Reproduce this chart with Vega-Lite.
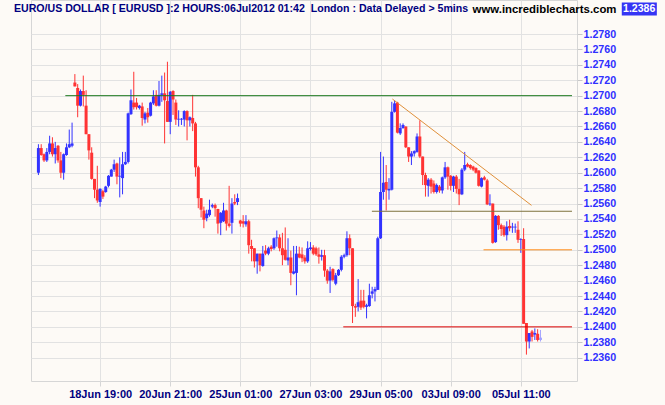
{
"$schema":"https://vega.github.io/schema/vega-lite/v6.json",
"width":546,"height":381,
"autosize":{"type":"none"},
"padding":{"left":31,"top":0,"right":88,"bottom":24},
"background":"#fdfaf6",
"title":{"text":"EURO/US DOLLAR [ EURUSD ]:2 HOURS:06Jul2012 01:42\u00a0 London : Data Delayed > 5mins","anchor":"start","frame":"group","orient":"top","offset":-13,"dy":10,"baseline":"alphabetic","dx":-17,"font":"Liberation Sans","fontSize":10.6,"fontWeight":"bold","color":"#000080"},
"config":{"view":{"stroke":"#d6d6d6"},"axis":{"gridColor":"#e2e2e2","gridWidth":1},
 "axisX":{"grid":true,"domain":false,"ticks":true,"tickColor":"#d6d6d6","tickSize":5,"labelFont":"Liberation Sans","labelFontSize":11,"labelFontWeight":"bold","labelColor":"#000080","labelPadding":2,"labelFlush":false,"labelOverlap":false},
 "axisY":{"grid":true,"domain":false,"ticks":true,"tickColor":"#c8c8c8","tickSize":5,"labelPadding":1,"labelFont":"Liberation Sans","labelFontSize":10.7,"labelFontWeight":"bold","labelColor":"#3030ff","labelOverlap":false}},
"datasets":{
"bars":[
{"i":0,"o":1.2600,"h":1.2637,"l":1.2597,"c":1.2632},
{"i":1,"o":1.2632,"h":1.2637,"l":1.2622,"c":1.2623},
{"i":2,"o":1.2624,"h":1.2625,"l":1.2614,"c":1.2616},
{"i":3,"o":1.2616,"h":1.2632,"l":1.2614,"c":1.2627},
{"i":4,"o":1.2627,"h":1.2648,"l":1.2624,"c":1.2638},
{"i":5,"o":1.2638,"h":1.2646,"l":1.2621,"c":1.2624},
{"i":6,"o":1.2624,"h":1.2640,"l":1.2612,"c":1.2632},
{"i":7,"o":1.2635,"h":1.2636,"l":1.2613,"c":1.2616},
{"i":8,"o":1.2616,"h":1.2627,"l":1.2593,"c":1.2600},
{"i":9,"o":1.2600,"h":1.2625,"l":1.2591,"c":1.2624},
{"i":10,"o":1.2623,"h":1.2638,"l":1.2622,"c":1.2633},
{"i":11,"o":1.2633,"h":1.2656,"l":1.2632,"c":1.2637},
{"i":12,"o":1.2635,"h":1.2665,"l":1.2633,"c":1.2638},
{"i":13,"o":1.2717,"h":1.2728,"l":1.2712,"c":1.2712},
{"i":14,"o":1.2710,"h":1.2715,"l":1.2672,"c":1.2687},
{"i":15,"o":1.2687,"h":1.2708,"l":1.2686,"c":1.2706},
{"i":16,"o":1.2706,"h":1.2726,"l":1.2686,"c":1.2701},
{"i":17,"o":1.2687,"h":1.2707,"l":1.2650,"c":1.2650},
{"i":18,"o":1.2650,"h":1.2650,"l":1.2617,"c":1.2629},
{"i":19,"o":1.2626,"h":1.2633,"l":1.2591,"c":1.2592},
{"i":20,"o":1.2592,"h":1.2592,"l":1.2567,"c":1.2578},
{"i":21,"o":1.2578,"h":1.2609,"l":1.2561,"c":1.2564},
{"i":22,"o":1.2562,"h":1.2580,"l":1.2556,"c":1.2579},
{"i":23,"o":1.2576,"h":1.2578,"l":1.2566,"c":1.2569},
{"i":24,"o":1.2575,"h":1.2583,"l":1.2574,"c":1.2582},
{"i":25,"o":1.2583,"h":1.2597,"l":1.2581,"c":1.2596},
{"i":26,"o":1.2595,"h":1.2605,"l":1.2595,"c":1.2604},
{"i":27,"o":1.2604,"h":1.2617,"l":1.2601,"c":1.2611},
{"i":28,"o":1.2612,"h":1.2613,"l":1.2585,"c":1.2595},
{"i":29,"o":1.2595,"h":1.2620,"l":1.2568,"c":1.2596},
{"i":30,"o":1.2593,"h":1.2627,"l":1.2572,"c":1.2611},
{"i":31,"o":1.2611,"h":1.2627,"l":1.2610,"c":1.2614},
{"i":32,"o":1.2614,"h":1.2678,"l":1.2612,"c":1.2677},
{"i":33,"o":1.2676,"h":1.2708,"l":1.2675,"c":1.2694},
{"i":34,"o":1.2691,"h":1.2731,"l":1.2682,"c":1.2685},
{"i":35,"o":1.2691,"h":1.2697,"l":1.2682,"c":1.2685},
{"i":36,"o":1.2684,"h":1.2688,"l":1.2682,"c":1.2687},
{"i":37,"o":1.2686,"h":1.2691,"l":1.2661,"c":1.2671},
{"i":38,"o":1.2669,"h":1.2679,"l":1.2664,"c":1.2677},
{"i":39,"o":1.2678,"h":1.2684,"l":1.2665,"c":1.2672},
{"i":40,"o":1.2674,"h":1.2692,"l":1.2673,"c":1.2691},
{"i":41,"o":1.2690,"h":1.2707,"l":1.2688,"c":1.2699},
{"i":42,"o":1.2701,"h":1.2707,"l":1.2686,"c":1.2687},
{"i":43,"o":1.2687,"h":1.2719,"l":1.2686,"c":1.2701},
{"i":44,"o":1.2701,"h":1.2726,"l":1.2692,"c":1.2703},
{"i":45,"o":1.2703,"h":1.2730,"l":1.2638,"c":1.2694},
{"i":46,"o":1.2693,"h":1.2744,"l":1.2666,"c":1.2666},
{"i":47,"o":1.2666,"h":1.2706,"l":1.2650,"c":1.2705},
{"i":48,"o":1.2706,"h":1.2707,"l":1.2675,"c":1.2695},
{"i":49,"o":1.2691,"h":1.2695,"l":1.2662,"c":1.2669},
{"i":50,"o":1.2669,"h":1.2681,"l":1.2660,"c":1.2670},
{"i":51,"o":1.2669,"h":1.2671,"l":1.2662,"c":1.2670},
{"i":52,"o":1.2669,"h":1.2681,"l":1.2660,"c":1.2680},
{"i":53,"o":1.2680,"h":1.2681,"l":1.2642,"c":1.2668},
{"i":54,"o":1.2668,"h":1.2673,"l":1.2660,"c":1.2672},
{"i":55,"o":1.2671,"h":1.2701,"l":1.2654,"c":1.2664},
{"i":56,"o":1.2664,"h":1.2666,"l":1.2595,"c":1.2607},
{"i":57,"o":1.2607,"h":1.2609,"l":1.2554,"c":1.2567},
{"i":58,"o":1.2567,"h":1.2567,"l":1.2542,"c":1.2552},
{"i":59,"o":1.2551,"h":1.2556,"l":1.2528,"c":1.2539},
{"i":60,"o":1.2541,"h":1.2552,"l":1.2537,"c":1.2547},
{"i":61,"o":1.2545,"h":1.2565,"l":1.2543,"c":1.2552},
{"i":62,"o":1.2556,"h":1.2560,"l":1.2554,"c":1.2558},
{"i":63,"o":1.2558,"h":1.2560,"l":1.2543,"c":1.2554},
{"i":64,"o":1.2553,"h":1.2553,"l":1.2521,"c":1.2534},
{"i":65,"o":1.2535,"h":1.2549,"l":1.2519,"c":1.2548},
{"i":66,"o":1.2537,"h":1.2561,"l":1.2536,"c":1.2551},
{"i":67,"o":1.2551,"h":1.2552,"l":1.2525,"c":1.2534},
{"i":68,"o":1.2534,"h":1.2583,"l":1.2529,"c":1.2531},
{"i":69,"o":1.2535,"h":1.2567,"l":1.2521,"c":1.2560},
{"i":70,"o":1.2562,"h":1.2572,"l":1.2558,"c":1.2560},
{"i":71,"o":1.2562,"h":1.2573,"l":1.2558,"c":1.2567},
{"i":72,"o":1.2538,"h":1.2539,"l":1.2530,"c":1.2534},
{"i":73,"o":1.2537,"h":1.2545,"l":1.2529,"c":1.2534},
{"i":74,"o":1.2533,"h":1.2545,"l":1.2530,"c":1.2537},
{"i":75,"o":1.2537,"h":1.2539,"l":1.2495,"c":1.2506},
{"i":76,"o":1.2505,"h":1.2513,"l":1.2485,"c":1.2501},
{"i":77,"o":1.2502,"h":1.2502,"l":1.2477,"c":1.2485},
{"i":78,"o":1.2485,"h":1.2495,"l":1.2469,"c":1.2495},
{"i":79,"o":1.2495,"h":1.2495,"l":1.2472,"c":1.2480},
{"i":80,"o":1.2479,"h":1.2505,"l":1.2478,"c":1.2495},
{"i":81,"o":1.2499,"h":1.2506,"l":1.2493,"c":1.2495},
{"i":82,"o":1.2495,"h":1.2504,"l":1.2493,"c":1.2502},
{"i":83,"o":1.2504,"h":1.2506,"l":1.2498,"c":1.2501},
{"i":84,"o":1.2502,"h":1.2516,"l":1.2500,"c":1.2515},
{"i":85,"o":1.2515,"h":1.2525,"l":1.2504,"c":1.2516},
{"i":86,"o":1.2516,"h":1.2520,"l":1.2498,"c":1.2502},
{"i":87,"o":1.2502,"h":1.2522,"l":1.2480,"c":1.2493},
{"i":88,"o":1.2500,"h":1.2529,"l":1.2486,"c":1.2487},
{"i":89,"o":1.2486,"h":1.2515,"l":1.2480,"c":1.2490},
{"i":90,"o":1.2490,"h":1.2499,"l":1.2454,"c":1.2470},
{"i":91,"o":1.2469,"h":1.2505,"l":1.2468,"c":1.2472},
{"i":92,"o":1.2470,"h":1.2505,"l":1.2441,"c":1.2495},
{"i":93,"o":1.2495,"h":1.2504,"l":1.2489,"c":1.2490},
{"i":94,"o":1.2494,"h":1.2503,"l":1.2484,"c":1.2489},
{"i":95,"o":1.2490,"h":1.2493,"l":1.2482,"c":1.2485},
{"i":96,"o":1.2485,"h":1.2511,"l":1.2483,"c":1.2502},
{"i":97,"o":1.2501,"h":1.2510,"l":1.2499,"c":1.2503},
{"i":98,"o":1.2503,"h":1.2506,"l":1.2493,"c":1.2495},
{"i":99,"o":1.2502,"h":1.2504,"l":1.2492,"c":1.2494},
{"i":100,"o":1.2494,"h":1.2503,"l":1.2482,"c":1.2491},
{"i":101,"o":1.2491,"h":1.2500,"l":1.2486,"c":1.2493},
{"i":102,"o":1.2493,"h":1.2500,"l":1.2465,"c":1.2473},
{"i":103,"o":1.2473,"h":1.2475,"l":1.2456,"c":1.2460},
{"i":104,"o":1.2460,"h":1.2478,"l":1.2444,"c":1.2472},
{"i":105,"o":1.2475,"h":1.2476,"l":1.2459,"c":1.2461},
{"i":106,"o":1.2456,"h":1.2470,"l":1.2454,"c":1.2467},
{"i":107,"o":1.2467,"h":1.2475,"l":1.2466,"c":1.2474},
{"i":108,"o":1.2474,"h":1.2493,"l":1.2472,"c":1.2491},
{"i":109,"o":1.2491,"h":1.2495,"l":1.2489,"c":1.2493},
{"i":110,"o":1.2493,"h":1.2524,"l":1.2491,"c":1.2515},
{"i":111,"o":1.2515,"h":1.2520,"l":1.2493,"c":1.2502},
{"i":112,"o":1.2502,"h":1.2502,"l":1.2405,"c":1.2427},
{"i":113,"o":1.2427,"h":1.2430,"l":1.2413,"c":1.2425},
{"i":114,"o":1.2426,"h":1.2462,"l":1.2420,"c":1.2432},
{"i":115,"o":1.2434,"h":1.2448,"l":1.2422,"c":1.2425},
{"i":116,"o":1.2434,"h":1.2448,"l":1.2424,"c":1.2426},
{"i":117,"o":1.2426,"h":1.2430,"l":1.2411,"c":1.2428},
{"i":118,"o":1.2427,"h":1.2456,"l":1.2426,"c":1.2441},
{"i":119,"o":1.2443,"h":1.2452,"l":1.2437,"c":1.2446},
{"i":120,"o":1.2446,"h":1.2452,"l":1.2433,"c":1.2449},
{"i":121,"o":1.2448,"h":1.2517,"l":1.2448,"c":1.2515},
{"i":122,"o":1.2515,"h":1.2627,"l":1.2514,"c":1.2575},
{"i":123,"o":1.2575,"h":1.2621,"l":1.2565,"c":1.2587},
{"i":124,"o":1.2588,"h":1.2610,"l":1.2551,"c":1.2578},
{"i":125,"o":1.2577,"h":1.2593,"l":1.2565,"c":1.2579},
{"i":126,"o":1.2578,"h":1.2692,"l":1.2577,"c":1.2679},
{"i":127,"o":1.2679,"h":1.2694,"l":1.2678,"c":1.2690},
{"i":128,"o":1.2691,"h":1.2692,"l":1.2651,"c":1.2652},
{"i":129,"o":1.2651,"h":1.2664,"l":1.2649,"c":1.2658},
{"i":130,"o":1.2658,"h":1.2664,"l":1.2657,"c":1.2662},
{"i":131,"o":1.2660,"h":1.2660,"l":1.2632,"c":1.2633},
{"i":132,"o":1.2633,"h":1.2633,"l":1.2614,"c":1.2621},
{"i":133,"o":1.2621,"h":1.2628,"l":1.2610,"c":1.2625},
{"i":134,"o":1.2625,"h":1.2629,"l":1.2621,"c":1.2628},
{"i":135,"o":1.2627,"h":1.2651,"l":1.2626,"c":1.2647},
{"i":136,"o":1.2647,"h":1.2668,"l":1.2619,"c":1.2621},
{"i":137,"o":1.2621,"h":1.2621,"l":1.2584,"c":1.2597},
{"i":138,"o":1.2597,"h":1.2600,"l":1.2569,"c":1.2584},
{"i":139,"o":1.2583,"h":1.2593,"l":1.2569,"c":1.2591},
{"i":140,"o":1.2591,"h":1.2593,"l":1.2573,"c":1.2582},
{"i":141,"o":1.2586,"h":1.2590,"l":1.2573,"c":1.2575},
{"i":142,"o":1.2575,"h":1.2586,"l":1.2573,"c":1.2584},
{"i":143,"o":1.2582,"h":1.2584,"l":1.2574,"c":1.2577},
{"i":144,"o":1.2577,"h":1.2595,"l":1.2573,"c":1.2594},
{"i":145,"o":1.2594,"h":1.2614,"l":1.2592,"c":1.2607},
{"i":146,"o":1.2607,"h":1.2608,"l":1.2578,"c":1.2595},
{"i":147,"o":1.2596,"h":1.2597,"l":1.2577,"c":1.2583},
{"i":148,"o":1.2583,"h":1.2596,"l":1.2575,"c":1.2595},
{"i":149,"o":1.2595,"h":1.2597,"l":1.2573,"c":1.2579},
{"i":150,"o":1.2579,"h":1.2592,"l":1.2558,"c":1.2572},
{"i":151,"o":1.2572,"h":1.2606,"l":1.2571,"c":1.2604},
{"i":152,"o":1.2604,"h":1.2627,"l":1.2602,"c":1.2610},
{"i":153,"o":1.2611,"h":1.2613,"l":1.2607,"c":1.2608},
{"i":154,"o":1.2610,"h":1.2611,"l":1.2604,"c":1.2606},
{"i":155,"o":1.2608,"h":1.2609,"l":1.2602,"c":1.2604},
{"i":156,"o":1.2606,"h":1.2607,"l":1.2599,"c":1.2600},
{"i":157,"o":1.2603,"h":1.2603,"l":1.2582,"c":1.2583},
{"i":158,"o":1.2582,"h":1.2594,"l":1.2581,"c":1.2593},
{"i":159,"o":1.2594,"h":1.2596,"l":1.2590,"c":1.2591},
{"i":160,"o":1.2590,"h":1.2592,"l":1.2558,"c":1.2559},
{"i":161,"o":1.2559,"h":1.2572,"l":1.2557,"c":1.2560},
{"i":162,"o":1.2560,"h":1.2560,"l":1.2508,"c":1.2509},
{"i":163,"o":1.2510,"h":1.2545,"l":1.2509,"c":1.2544},
{"i":164,"o":1.2544,"h":1.2545,"l":1.2526,"c":1.2532},
{"i":165,"o":1.2532,"h":1.2534,"l":1.2518,"c":1.2527},
{"i":166,"o":1.2530,"h":1.2532,"l":1.2517,"c":1.2519},
{"i":167,"o":1.2519,"h":1.2537,"l":1.2512,"c":1.2530},
{"i":168,"o":1.2531,"h":1.2539,"l":1.2524,"c":1.2528},
{"i":169,"o":1.2529,"h":1.2535,"l":1.2522,"c":1.2530},
{"i":170,"o":1.2529,"h":1.2534,"l":1.2522,"c":1.2530},
{"i":171,"o":1.2526,"h":1.2537,"l":1.2509,"c":1.2513},
{"i":172,"o":1.2513,"h":1.2515,"l":1.2496,"c":1.2514},
{"i":173,"o":1.2514,"h":1.2528,"l":1.2404,"c":1.2404},
{"i":174,"o":1.2405,"h":1.2405,"l":1.2364,"c":1.2381},
{"i":175,"o":1.2381,"h":1.2392,"l":1.2372,"c":1.2392},
{"i":176,"o":1.2394,"h":1.2396,"l":1.2381,"c":1.2387},
{"i":177,"o":1.2390,"h":1.2398,"l":1.2383,"c":1.2392},
{"i":178,"o":1.2391,"h":1.2397,"l":1.2381,"c":1.2383},
{"i":179,"o":1.2383,"h":1.2396,"l":1.2381,"c":1.2386}
],
"lines":[
{"name":"r1270","x1":9.6,"x2":190.25,"y1":1.2700,"y2":1.2700},
{"name":"r1255","x1":118.9,"x2":190.25,"y1":1.2550,"y2":1.2550},
{"name":"r1250","x1":158.7,"x2":190.25,"y1":1.2500,"y2":1.2500},
{"name":"r1240","x1":108.7,"x2":190.25,"y1":1.2400,"y2":1.2400},
{"name":"trend","x1":126.2,"x2":175.8,"y1":1.26957,"y2":1.25577}
]
},
"layer":[
{"encoding":{
  "x":{"field":"i","type":"quantitative","title":null,"scale":{"domain":[-0.86,190.25],"nice":false,"zero":false},"axis":{"orient":"bottom","values":[22,47,72,97,122,147,172],"labelExpr":"datum.value==22?'18Jun 19:00':datum.value==47?'20Jun 21:00':datum.value==72?'25Jun 01:00':datum.value==97?'27Jun 03:00':datum.value==122?'29Jun 05:00':datum.value==147?'03Jul 09:00':'05Jul 11:00'","title":null}},
  "y":{"field":"l","type":"quantitative","title":null,"scale":{"domain":[1.232976,1.282412],"nice":false,"zero":false},"axis":{"orient":"right","values":[1.236,1.238,1.24,1.242,1.244,1.246,1.248,1.25,1.252,1.254,1.256,1.258,1.26,1.262,1.264,1.266,1.268,1.27,1.272,1.274,1.276,1.278],"format":".4f","title":null}}
 },
 "layer":[
 {"data":{"name":"bars"},
  "mark":{"type":"rule","strokeWidth":1},
  "encoding":{
   "y2":{"field":"h"},
   "color":{"condition":[{"test":"datum.i==179","value":"#a0a0ff"},{"test":"datum.c<datum.o","value":"#ff3333"}],"value":"#3333ff"}
  }},
 {"data":{"name":"bars"},
  "mark":{"type":"bar","size":3,"orient":"vertical"},
  "encoding":{
   "y":{"field":"o","type":"quantitative","title":null},
   "y2":{"field":"c"},
   "color":{"condition":[{"test":"datum.i==179","value":"#a0a0ff"},{"test":"datum.c<datum.o","value":"#ff3333"}],"value":"#3333ff"}
  }},
 {"data":{"name":"lines"},
  "mark":{"type":"rule","strokeWidth":1},
  "encoding":{
   "x":{"field":"x1","type":"quantitative","title":null},
   "x2":{"field":"x2"},
   "y":{"field":"y1","type":"quantitative","title":null},
   "y2":{"field":"y2"},
   "color":{"field":"name","type":"nominal","legend":null,"scale":{"domain":["r1270","r1255","r1250","r1240","trend"],"range":["#1f7a1f","#7d713c","#ff8c1a","#dd0000","#e0903a"]}}
  }}
 ]
},
{"data":{"values":[{"t":"1.2386"}]},
 "mark":{"type":"rect","color":"#3535f5","clip":false},
 "encoding":{
  "x":{"datum":208.0,"type":"quantitative","title":null,"axis":{"orient":"bottom","values":[22,47,72,97,122,147,172],"labelExpr":"datum.value==22?'18Jun 19:00':datum.value==47?'20Jun 21:00':datum.value==72?'25Jun 01:00':datum.value==97?'27Jun 03:00':datum.value==122?'29Jun 05:00':datum.value==147?'03Jul 09:00':'05Jul 11:00'","title":null}},
  "x2":{"datum":220.5},
  "y":{"datum":1.28209,"type":"quantitative","title":null,"axis":{"orient":"right","values":[1.236,1.238,1.24,1.242,1.244,1.246,1.248,1.25,1.252,1.254,1.256,1.258,1.26,1.262,1.264,1.266,1.268,1.27,1.272,1.274,1.276,1.278],"format":".4f","title":null}},
  "y2":{"datum":1.28040}
 }},
{"data":{"values":[{"t":"1.2386"}]},
 "mark":{"type":"text","font":"Liberation Sans","fontSize":10.5,"fontWeight":"bold","color":"#ffffff","align":"center","baseline":"middle","clip":false},
 "encoding":{
  "x":{"datum":214.2,"type":"quantitative","title":null,"axis":{"orient":"bottom","values":[22,47,72,97,122,147,172],"labelExpr":"datum.value==22?'18Jun 19:00':datum.value==47?'20Jun 21:00':datum.value==72?'25Jun 01:00':datum.value==97?'27Jun 03:00':datum.value==122?'29Jun 05:00':datum.value==147?'03Jul 09:00':'05Jul 11:00'","title":null}},
  "y":{"datum":1.28125,"type":"quantitative","title":null,"axis":{"orient":"right","values":[1.236,1.238,1.24,1.242,1.244,1.246,1.248,1.25,1.252,1.254,1.256,1.258,1.26,1.262,1.264,1.266,1.268,1.27,1.272,1.274,1.276,1.278],"format":".4f","title":null}},
  "text":{"field":"t"}
 }},
{"data":{"values":[{"t":"www.incrediblecharts.com"}]},
 "mark":{"type":"text","font":"Liberation Sans","fontSize":11.4,"fontWeight":"bold","color":"#000000","align":"left","baseline":"alphabetic","clip":false},
 "encoding":{
  "x":{"datum":154.8,"type":"quantitative","title":null,"axis":{"orient":"bottom","values":[22,47,72,97,122,147,172],"labelExpr":"datum.value==22?'18Jun 19:00':datum.value==47?'20Jun 21:00':datum.value==72?'25Jun 01:00':datum.value==97?'27Jun 03:00':datum.value==122?'29Jun 05:00':datum.value==147?'03Jul 09:00':'05Jul 11:00'","title":null}},
  "y":{"datum":1.28069,"type":"quantitative","title":null,"axis":{"orient":"right","values":[1.236,1.238,1.24,1.242,1.244,1.246,1.248,1.25,1.252,1.254,1.256,1.258,1.26,1.262,1.264,1.266,1.268,1.27,1.272,1.274,1.276,1.278],"format":".4f","title":null}},
  "text":{"field":"t"}
 }}
]
}
